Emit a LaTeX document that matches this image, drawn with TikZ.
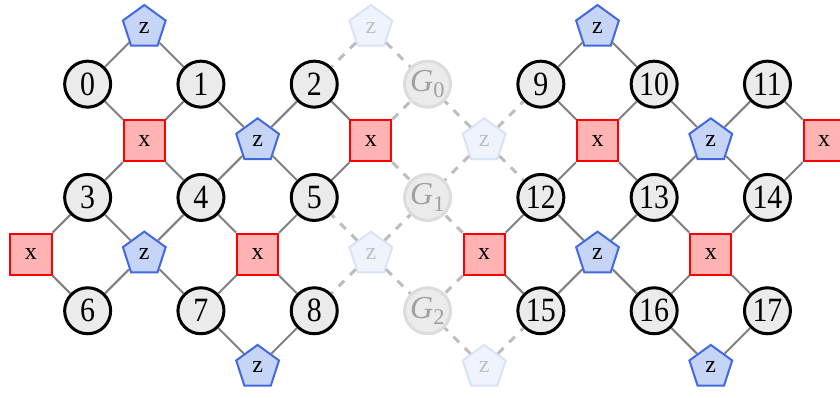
\documentclass[tikz,border=0pt]{standalone}
\usepackage{fontspec}
\setmainfont{Liberation Serif}
\newfontfamily\digitfont[FakeStretch=0.88]{Liberation Serif}
\usetikzlibrary{shapes.geometric}
\definecolor{qfill}{HTML}{EBEBEB}
\definecolor{gborder}{HTML}{DCDCDC}
\definecolor{gtext}{HTML}{A0A0A0}
\definecolor{xfill}{HTML}{FFB3B3}
\definecolor{xborder}{HTML}{FF0000}
\definecolor{zfill}{HTML}{C6D4F5}
\definecolor{zborder}{HTML}{4169E1}
\definecolor{zgfill}{HTML}{EFF3FC}
\definecolor{zgborder}{HTML}{D9E3F8}
\definecolor{zgtext}{HTML}{C0C0C0}
\definecolor{linkgray}{HTML}{808080}
\definecolor{dashgray}{HTML}{BDBDBD}
\begin{document}
\begin{tikzpicture}[x=56.65pt,y=-56.65pt,
  qubit/.style={circle,draw=black,line width=3pt,fill=qfill,minimum size=46pt,inner sep=0pt,font=\digitfont\fontsize{34}{34}\selectfont},
  gq/.style={circle,draw=gborder,line width=3pt,fill=qfill,minimum size=46pt,inner sep=0pt,text=gtext,font=\fontsize{32}{32}\selectfont},
  xstab/.style={rectangle,draw=xborder,line width=2pt,fill=xfill,minimum size=41pt,inner sep=0pt,font=\fontsize{24}{24}\selectfont},
  zstab/.style={regular polygon,regular polygon sides=5,draw=zborder,line width=2pt,fill=zfill,minimum size=45pt,inner sep=0pt,font=\fontsize{24}{24}\selectfont},
  zghost/.style={zstab,draw=zgborder,fill=zgfill,text=zgtext},
  link/.style={draw=linkgray,line width=2pt},
  ghostlink/.style={draw=dashgray,line width=3pt,dash pattern=on 8pt off 8pt}]
\useasboundingbox (-31pt,27.5pt) rectangle (809pt,-369.5pt);
% data qubits
\foreach \a/\b/\l in {1/1/0,3/1/1,5/1/2,9/1/9,11/1/10,13/1/11,
                      1/3/3,3/3/4,5/3/5,9/3/12,11/3/13,13/3/14,
                      1/5/6,3/5/7,5/5/8,9/5/15,11/5/16,13/5/17}
  \node[qubit] (c-\a-\b) at (\a,\b) {\l};
\node[gq] (c-7-1) at (7,1) {\textit{G}\textsubscript{0}};
\node[gq] (c-7-3) at (7,3) {\textit{G}\textsubscript{1}};
\node[gq] (c-7-5) at (7,5) {\textit{G}\textsubscript{2}};
% stabilizers
\foreach \a/\b in {2/2,6/2,10/2,14/2,0/4,4/4,8/4,12/4}
  \node[xstab] (p-\a-\b) at (\a,\b) {x};
\foreach \a/\b in {2/0,10/0,4/2,12/2,2/4,10/4,4/6,12/6}
  \node[zstab] (p-\a-\b) at (\a,\b) {z};
\foreach \a/\b in {6/0,8/2,6/4,8/6}
  \node[zghost] (p-\a-\b) at (\a,\b) {z};
% connectors
\foreach \a/\b/\g in {2/0/0,6/0/1,10/0/0,
                      2/2/0,4/2/0,6/2/0,8/2/1,10/2/0,12/2/0,14/2/0,
                      0/4/0,2/4/0,4/4/0,6/4/1,8/4/0,10/4/0,12/4/0,
                      4/6/0,8/6/1,12/6/0}{
  \foreach \da in {-1,1}{
    \foreach \db in {-1,1}{
      \pgfmathtruncatemacro\ca{\a+\da}
      \pgfmathtruncatemacro\cb{\b+\db}
      \pgfmathtruncatemacro\ok{and(and(\ca>0,\ca<14),and(\cb>0,\cb<6))}
      \pgfmathtruncatemacro\gh{or(\g==1,\ca==7)}
      \ifnum\ok=1
        \ifnum\gh=1
          \draw[ghostlink] (p-\a-\b) -- (c-\ca-\cb);
        \else
          \draw[link] (p-\a-\b) -- (c-\ca-\cb);
        \fi
      \fi
    }
  }
}
\end{tikzpicture}
\end{document}
